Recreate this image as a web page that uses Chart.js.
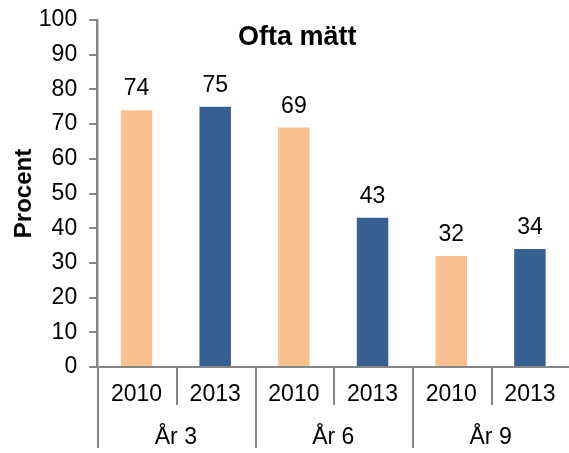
<!DOCTYPE html>
<html>
<head>
<meta charset="utf-8">
<script src="https://cdn.jsdelivr.net/npm/chart.js@4/dist/chart.umd.min.js"></script>
<style>
  body { margin: 0; background: #fff; overflow: hidden; }
  #wrap { width: 572px; height: 453px; }
</style>
</head>
<body>
<div id="wrap"><canvas id="graphique"></canvas></div>
<script>
const groupes = ["År 3", "År 6", "År 9"]
const annees = ["2010", "2013"]
const valeurs2010 = [74, 69, 32]
const valeurs2013 = [75, 43, 34]
const titre = "Ofta mätt"

const police = "'Liberation Sans', Arial, sans-serif"
const gris = "#868686"
const couleurs = ["#F9C090", "#366092"]

// une barre par (groupe, année)
const labels = groupes.flatMap(() => annees)
const valeurs = groupes.flatMap((g, i) => [valeurs2010[i], valeurs2013[i]])
const fonds = groupes.flatMap(() => couleurs)

// valeurs au-dessus des barres
const etiquettes = {
    id: "etiquettes",
    afterDatasetsDraw(chart) {
        const ctx = chart.ctx
        const meta = chart.getDatasetMeta(0)
        ctx.save()
        ctx.font = "23px " + police
        ctx.fillStyle = "#000"
        ctx.textAlign = "center"
        ctx.textBaseline = "alphabetic"
        meta.data.forEach((barre, i) => {
            ctx.fillText(valeurs[i], barre.x, barre.y - 15)
        })
        ctx.restore()
    }
}

// titre dans la zone du graphique + séparateurs de l'axe x
const extras = {
    id: "extras",
    afterDraw(chart) {
        const ctx = chart.ctx
        const zone = chart.chartArea
        const x = chart.scales.x
        ctx.save()
        ctx.font = "bold 27px " + police
        ctx.fillStyle = "#000"
        ctx.textAlign = "center"
        ctx.textBaseline = "alphabetic"
        ctx.fillText(titre, zone.left + 200, zone.top + 25)

        const demi = (x.getPixelForValue(1) - x.getPixelForValue(0)) / 2
        ctx.strokeStyle = gris
        ctx.lineWidth = 2
        for (let i = 0; i < labels.length; i++) {
            const px = Math.round(x.getPixelForValue(i) - demi) + 1
            const bas = zone.bottom + (i % annees.length == 0 ? 81 : 38)
            ctx.beginPath()
            ctx.moveTo(px, zone.bottom)
            ctx.lineTo(px, bas)
            ctx.stroke()
        }
        ctx.restore()
    }
}

const data = {
    labels: labels,
    datasets: [{
        label: titre,
        data: valeurs,
        backgroundColor: fonds,
        barPercentage: 0.4,
        categoryPercentage: 1,
    }],
}

const config = {
    type: "bar",
    data: data,
    options: {
        responsive: true,
        maintainAspectRatio: false,
        animation: false,
        layout: { padding: { top: 20, right: 0, bottom: 0, left: 0 } },
        plugins: {
            legend: { display: false },
            tooltip: { enabled: false },
        },
        scales: {
            x: {
                weight: 0,
                offset: true,
                grid: { drawOnChartArea: false, drawTicks: false, color: gris },
                border: { display: true, color: gris, width: 2 },
                ticks: {
                    color: "#000",
                    padding: 16.5,
                    maxRotation: 0,
                    font: { family: police, size: 23, lineHeight: 1 },
                },
            },
            x2: {
                type: "category",
                position: "bottom",
                weight: 1,
                labels: groupes,
                offset: true,
                grid: { drawOnChartArea: false, drawTicks: false },
                border: { display: false },
                ticks: {
                    color: "#000",
                    padding: 3.5,
                    maxRotation: 0,
                    font: { family: police, size: 23, lineHeight: 1 },
                },
            },
            y: {
                min: 0,
                max: 100,
                ticks: {
                    stepSize: 10,
                    color: "#000",
                    padding: 0,
                    font: { family: police, size: 23, lineHeight: 1 },
                },
                grid: {
                    drawOnChartArea: false,
                    tickLength: 20,
                    tickBorderDash: [0, 12, 8, 0],
                    color: gris,
                    lineWidth: 2,
                },
                border: { display: true, color: gris, width: 2.5 },
                title: {
                    display: true,
                    text: "Procent",
                    color: "#000",
                    font: { family: police, size: 24, weight: "bold" },
                    padding: { top: 10, bottom: 0 },
                },
            },
        },
    },
    plugins: [etiquettes, extras],
}

new Chart(
    document.querySelector("#graphique"),
    config,
)
</script>
</body>
</html>
